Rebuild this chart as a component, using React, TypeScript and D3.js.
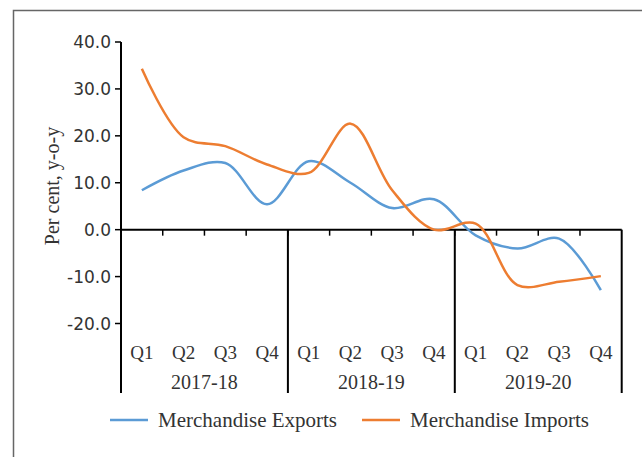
import React from "react";
import * as d3 from "d3";

const years = ["2017-18", "2018-19", "2019-20"];
const quarters = ["Q1", "Q2", "Q3", "Q4"];
const exportsData = [8.4, 12.6, 14.2, 5.4, 14.6, 10.0, 4.6, 6.5, -1.2, -4.0, -1.9, -12.9];
const importsData = [34.3, 19.7, 17.8, 13.9, 12.1, 22.6, 8.4, 0.0, 1.3, -11.8, -11.1, -9.9];
const yTicks = [-20, -10, 0, 10, 20, 30, 40];
const seriesNames = ["Merchandise Exports", "Merchandise Imports"];
const colors = ["#5B9BD5", "#ED7D31"];

export default function App() {
  const W = 642, H = 457;
  const x0 = 121, x1 = 621.7;
  const n = years.length * quarters.length;
  const x = d3.scaleLinear().domain([0, n]).range([x0, x1]);
  const y = d3.scaleLinear().domain([-20, 40]).range([323.5, 42]);
  const line = d3
    .line<number>()
    .x((_, i) => x(i + 0.5))
    .y((d) => y(d))
    .curve(d3.curveCatmullRom.alpha(0.5));
  const serif = "'Liberation Serif', 'Times New Roman', serif";
  const sans = "'DejaVu Sans', sans-serif";
  const txt = "#333";
  const divBottom = 393;
  return (
    <svg width={W} height={H} style={{ position: "absolute", left: 0, top: 0 }}>
      <rect x={0} y={0} width={W} height={H} fill="#fff" />
      <rect x={13.5} y={10.5} width={W + 20} height={H + 20} fill="none" stroke="#666" strokeWidth={1.5} />
      {/* y ticks */}
      {yTicks.map((t) => (
        <g key={t}>
          <line x1={x0 - 6} x2={x0} y1={y(t)} y2={y(t)} stroke="#000" strokeWidth={1.5} />
          <text x={x0 - 10} y={y(t)} dy="0.36em" textAnchor="end" fontFamily={sans} fontSize={17} fill={txt}>
            {t.toFixed(1)}
          </text>
        </g>
      ))}
      <line x1={x0} x2={x0} y1={y(40)} y2={divBottom} stroke="#000" strokeWidth={2} />
      {/* x axis */}
      <line x1={x0} x2={x1} y1={y(0)} y2={y(0)} stroke="#000" strokeWidth={2} />
      {d3.range(1, n).map((i) => (
        <line key={i} x1={x(i)} x2={x(i)} y1={y(0)} y2={y(0) + 6} stroke="#000" strokeWidth={1.5} />
      ))}
      {years.map((yr, gi) => (
        <g key={yr}>
          <line x1={x((gi + 1) * 4)} x2={x((gi + 1) * 4)} y1={y(0)} y2={divBottom} stroke="#000" strokeWidth={2} />
          {quarters.map((q, qi) => (
            <text key={q} x={x(gi * 4 + qi + 0.5)} y={352} dy="0.35em" textAnchor="middle" fontFamily={serif} fontSize={19} fill={txt}>
              {q}
            </text>
          ))}
          <text x={x(gi * 4 + 2)} y={382} dy="0.35em" textAnchor="middle" fontFamily={serif} fontSize={20} fill={txt}>
            {yr}
          </text>
        </g>
      ))}
      {/* lines */}
      <path d={line(exportsData) || ""} fill="none" stroke={colors[0]} strokeWidth={2.5} />
      <path d={line(importsData) || ""} fill="none" stroke={colors[1]} strokeWidth={2.5} />
      {/* y label */}
      <text transform={`translate(52,186) rotate(-90)`} textAnchor="middle" dy="0.35em" fontFamily={serif} fontSize={20} fill={txt}>
        Per cent, y-o-y
      </text>
      {/* legend */}
      {seriesNames.map((s, i) => {
        const lx = i === 0 ? 110 : 362;
        return (
          <g key={s}>
            <line x1={lx} x2={lx + 38} y1={420} y2={420} stroke={colors[i]} strokeWidth={2.5} />
            <text x={lx + 48} y={420} dy="0.35em" fontFamily={serif} fontSize={21} fill={txt}>
              {s}
            </text>
          </g>
        );
      })}
    </svg>
  );
}
